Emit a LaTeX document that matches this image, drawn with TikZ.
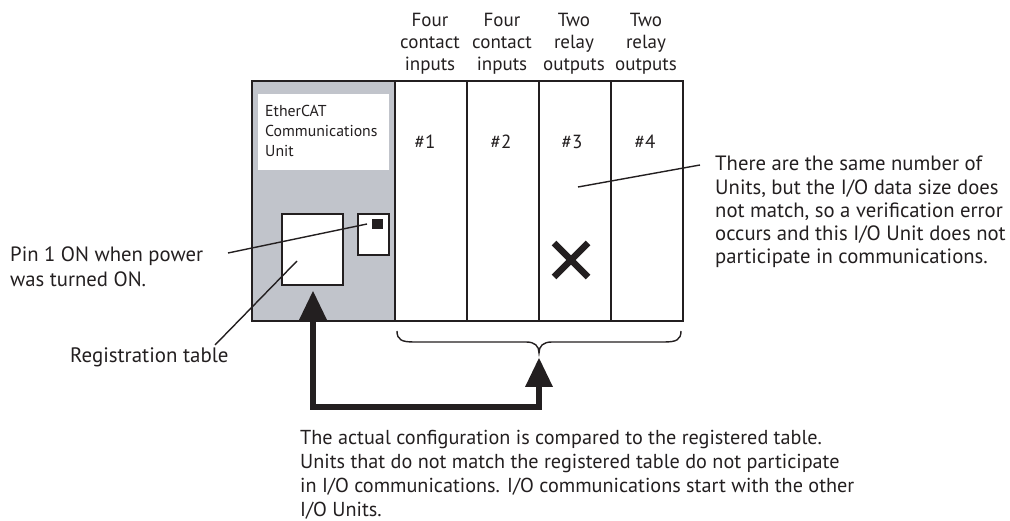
\documentclass[tikz,border=0pt]{standalone}
\usepackage{fontspec}
\setmainfont{PT Sans}
\usetikzlibrary{arrows.meta,calc}
\definecolor{ink}{RGB}{35,31,32}
\definecolor{panelgray}{RGB}{193,196,203}
\begin{document}
\begin{tikzpicture}[x=1pt,y=-1pt,
  box/.style={draw=ink, line width=2pt, inner sep=0pt, anchor=north west},
  slot/.style={box, fill=white, minimum width=72pt, minimum height=240pt},
  leader/.style={draw=ink, line width=1.4pt},
  % multi-line texts are placed by the baseline of their last line
  txt/.style={inner sep=0pt, text=ink, align=left, anchor=base west},
  collabel/.style={inner sep=0pt, text=ink, align=center, anchor=base,
    font=\fontsize{19}{22}\selectfont},
  slotnum/.style={inner sep=0pt, text=ink, anchor=base, font=\fontsize{19}{22}\selectfont},
  bigarrow/.style={draw=ink, line width=5.5pt, line join=miter,
    {Triangle[length=29pt,width=28pt,line width=0pt]}-{Triangle[length=29pt,width=28pt,line width=0pt]}}]
\useasboundingbox (0,0) rectangle (1010,521);

% communications unit and the four I/O slots
\node[box, fill=panelgray, minimum width=143pt, minimum height=240pt] (cu) at (251,80) {};
\node[slot] (s1) at (394,80) {};
\node[slot] (s2) at (466,80) {};
\node[slot] (s3) at (538,80) {};
\node[slot] (s4) at (610,80) {};

% name plate, registration table and DIP switch
\node[box, draw=none, fill=white, minimum width=131pt, minimum height=76pt] (plate) at (257,93) {};
\node[txt, font=\fontsize{15.8}{20}\selectfont] (platetext) at (265,157)
  {EtherCAT\\Communications\\Unit};
\node[box, fill=white, minimum width=61pt, minimum height=71pt] (regtab) at (281,213) {};
\node[box, fill=white, minimum width=31pt, minimum height=41pt] (dip) at (357,213) {};
\node[inner sep=0pt, fill=ink, minimum width=11pt, minimum height=10pt, anchor=north west] (pin) at (372,219) {};

% slot headings and numbers
\node[collabel] (h1) at (430,71) {Four\\contact\\inputs};
\node[collabel] (h2) at (502,71) {Four\\contact\\inputs};
\node[collabel] (h3) at (574,71) {Two\\relay\\outputs};
\node[collabel] (h4) at (646,71) {Two\\relay\\outputs};
\node[slotnum] (n1) at (425,149) {\#1};
\node[slotnum] (n2) at (501,149) {\#2};
\node[slotnum] (n3) at (572,149) {\#3};
\node[slotnum] (n4) at (645,149) {\#4};

% mismatch mark on slot 3
\coordinate (xc) at (571,260);
\draw[ink, line width=6.5pt] ($(xc)+(-17,-17)$) -- ($(xc)+(17,17)$)
  ($(xc)+(-17,17)$) -- ($(xc)+(17,-17)$);

% callouts
\node[txt, font=\fontsize{20.7}{25.5}\selectfont] (pintext) at (10,287)
  {Pin 1 ON when power\\was turned ON.};
\node[txt, font=\fontsize{20.9}{24}\selectfont] (regtext) at (70,363) {Registration table};
\node[txt, font=\fontsize{20.7}{23.3}\selectfont] (errtext) at (715,264)
  {There are the same number of\\Units, but the I/O data size does\\not match, so a verification error\\occurs and this I/O Unit does not\\participate in communications.};
\node[txt, font=\fontsize{20.2}{24}\selectfont] (cmptext) at (300,516)
  {The actual configuration is compared to the registered table.\\Units that do not match the registered table do not participate\\in I/O communications. I/O communications start with the other\\I/O Units.};

\coordinate (pinfoot) at (228,253);
\coordinate (pinhead) at (367,224);
\coordinate (regfoot) at (215,345);
\coordinate (reghead) at (297,261);
\coordinate (errhead) at (578,187);
\coordinate (errfoot) at (700,165);
\draw[leader] (pinfoot) -- (pinhead);
\draw[leader] (regfoot) -- (reghead);
\draw[leader] (errhead) -- (errfoot);

% brace under the I/O slots
\coordinate (bl) at (397,331);
\coordinate (br) at (681,331);
\coordinate (btip) at (539,353);
\draw[ink, line width=1.4pt] (bl) .. controls (397,340) and (402,342) .. (414,342)
  -- (526,342) .. controls (535,342) and (539,346) .. (btip)
  .. controls (539,346) and (543,342) .. (552,342) -- (664,342)
  .. controls (676,342) and (681,340) .. (br);

% comparison path between the table and the actual slots
\coordinate (tipA) at (313,291);
\coordinate (tipB) at (539,358);
\draw[bigarrow] (tipA) |- (539,407) -- (tipB);
\end{tikzpicture}
\end{document}
